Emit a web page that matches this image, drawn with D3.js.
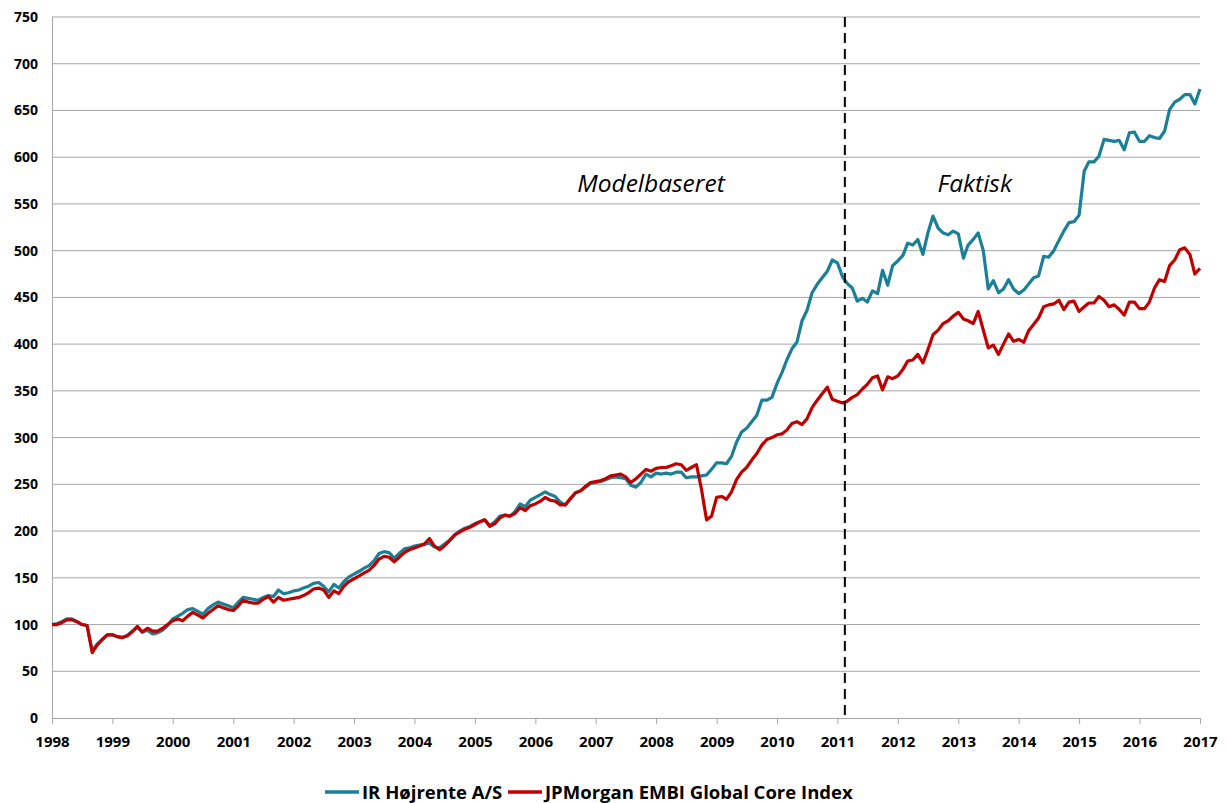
<!DOCTYPE html>
<html>
<head>
<meta charset="utf-8">
<script src="https://cdn.jsdelivr.net/npm/d3@7"></script>
<style>
  body { margin: 0; background: #fff; }
  text { font-family: "Open Sans", "DejaVu Sans", sans-serif; }
</style>
</head>
<body>
<div id="chart"></div>
<script>
// monthly index values, Jan 1998 .. Jan 2017 (one row per year)
var irHojrente = [
  100, 101, 103, 106, 106, 103, 100, 99, 72, 79, 84, 89,
  89, 87, 86, 88, 93, 97, 92, 94, 90, 91, 94, 99,
  106, 109, 112, 116, 117, 114, 111, 117, 121, 124, 122, 120,
  118, 124, 129, 128, 127, 126, 129, 131, 130, 137, 133, 134,
  136, 137, 139, 141, 144, 145, 141, 135, 143, 139, 146, 151,
  154, 157, 160, 163, 168, 176, 178, 177, 171, 176, 181, 182,
  184, 185, 186, 187, 183, 182, 186, 190, 196, 200, 203, 205,
  208, 210, 212, 206, 210, 216, 217, 216, 221, 229, 226, 233,
  236, 239, 242, 239, 237, 231, 228, 234, 241, 243, 247, 251,
  252, 253, 255, 257, 258, 257, 256, 249, 247, 252, 261, 258,
  262, 261, 262, 261, 263, 263, 257, 258, 258, 259, 260, 266,
  273, 273, 272, 280, 295, 306, 310, 317, 324, 340, 340, 343,
  358, 370, 383, 395, 402, 425, 436, 455, 464, 471, 478, 490,
  487, 472, 465, 460, 446, 449, 445, 457, 454, 479, 463, 484,
  489, 495, 508, 506, 512, 496, 519, 537, 524, 519, 517, 521,
  518, 492, 506, 512, 519, 500, 459, 468, 455, 459, 469, 459,
  454, 458, 464, 471, 473, 494, 493, 500, 511, 521, 530, 531,
  538, 585, 595, 595, 601, 619, 618, 617, 618, 608, 626, 627,
  617, 617, 623, 621, 620, 628, 651, 659, 662, 667, 667, 657,
  673
];

var embiCore = [
  100, 100, 102, 105, 105, 103, 100, 99, 70, 78, 84, 89,
  89, 87, 86, 88, 92, 98, 92, 96, 93, 93, 96, 100,
  104, 106, 104, 109, 113, 110, 107, 112, 116, 120, 118, 116,
  115, 120, 126, 124, 123, 123, 127, 130, 124, 129, 126, 127,
  128, 129, 131, 134, 138, 139, 137, 129, 136, 133, 141, 146,
  149, 152, 155, 158, 163, 170, 173, 172, 167, 172, 177, 180,
  182, 184, 186, 192, 184, 180, 184, 190, 196, 199, 202, 204,
  207, 210, 212, 205, 208, 214, 217, 216, 219, 225, 222, 227,
  229, 232, 236, 233, 232, 228, 228, 235, 241, 243, 248, 252,
  253, 254, 256, 259, 260, 261, 258, 252, 256, 261, 266, 264,
  267, 268, 268, 270, 272, 271, 265, 268, 271, 245, 212, 216,
  236, 237, 234, 242, 255, 263, 268, 276, 283, 292, 298, 300,
  303, 304, 308, 315, 317, 314, 320, 332, 340, 347, 354, 341,
  339, 337, 339, 343, 346, 352, 357, 364, 366, 351, 365, 363,
  366, 373, 382, 383, 389, 380, 394, 410, 415, 422, 425, 430,
  434, 427, 425, 422, 435, 415, 396, 399, 389, 400, 411, 403,
  405, 402, 414, 421, 428, 440, 442, 443, 447, 437, 445, 446,
  435, 440, 444, 444, 451, 447, 440, 442, 437, 431, 445, 445,
  438, 438, 445, 460, 469, 467, 484, 490, 501, 503, 496, 475,
  481
];

var seriesNames = ["IR Højrente A/S", "JPMorgan EMBI Global Core Index"];
var seriesColors = ["#1b7f95", "#c00000"];
var yTicks = d3.range(0, 751, 50);
var xYears = d3.range(1998, 2018);
var splitDate = new Date(2011, 1, 15);
var phaseLabels = ["Modelbaseret", "Faktisk"];

var W = 1227, H = 803;
var margin = { top: 17, right: 27, bottom: 85, left: 52 };

var svg = d3.select('#chart').append('svg')
  .attr('width', W).attr('height', H);

var x = d3.scaleTime()
  .domain([new Date(1998, 0, 1), new Date(2017, 0, 1)])
  .range([margin.left, W - margin.right]);
var y = d3.scaleLinear()
  .domain([0, 750])
  .range([H - margin.bottom, margin.top]);

// gridlines
svg.append('g')
  .selectAll('line')
  .data(yTicks.filter(d => d > 0))
  .enter().append('line')
  .attr('x1', x.range()[0]).attr('x2', x.range()[1])
  .attr('y1', d => y(d)).attr('y2', d => y(d))
  .attr('stroke', '#a6a6a6').attr('stroke-width', 1);

// y axis
var yAxis = svg.append('g')
  .attr('transform', 'translate(' + margin.left + ',0)')
  .call(d3.axisLeft(y).tickValues(yTicks).tickSize(0).tickPadding(14));
yAxis.select('.domain').attr('stroke', '#a6a6a6');
yAxis.selectAll('text')
  .attr('font-size', 14).attr('font-weight', 700).attr('fill', '#000')
  .attr('font-family', '"Open Sans", sans-serif');

// x axis
var xAxis = svg.append('g')
  .attr('transform', 'translate(0,' + y(0) + ')')
  .call(d3.axisBottom(x)
    .tickValues(xYears.map(yr => new Date(yr, 0, 1)))
    .tickFormat(d3.timeFormat('%Y'))
    .tickSizeInner(6).tickSizeOuter(0).tickPadding(12));
xAxis.selectAll('.domain, line').attr('stroke', '#a6a6a6');
xAxis.selectAll('text')
  .attr('font-size', 15).attr('font-weight', 700).attr('fill', '#000')
  .attr('font-family', '"Open Sans", sans-serif');

// lines
var dates = irHojrente.map((v, i) => new Date(1998, i, 1));
var line = d3.line()
  .x((d, i) => x(dates[i]))
  .y(d => y(d));

[irHojrente, embiCore].forEach(function (s, k) {
  svg.append('path')
    .datum(s)
    .attr('fill', 'none')
    .attr('stroke', seriesColors[k])
    .attr('stroke-width', 3.2)
    .attr('stroke-linejoin', 'round')
    .attr('d', line);
});

// split marker
svg.append('line')
  .attr('x1', x(splitDate)).attr('x2', x(splitDate))
  .attr('y1', y(750)).attr('y2', y(0))
  .attr('stroke', '#000').attr('stroke-width', 2)
  .attr('stroke-dasharray', '10,6');

svg.append('text')
  .attr('x', x(new Date(2007, 11, 1))).attr('y', 192)
  .attr('text-anchor', 'middle')
  .attr('font-size', 24.5).attr('font-style', 'italic')
  .text(phaseLabels[0]);
svg.append('text')
  .attr('x', x(new Date(2013, 3, 10))).attr('y', 192)
  .attr('text-anchor', 'middle')
  .attr('font-size', 24.5).attr('font-style', 'italic')
  .text(phaseLabels[1]);

// legend
var legend = svg.append('g').attr('transform', 'translate(0,792)');
var legendX = [325, 508];
seriesNames.forEach(function (name, k) {
  legend.append('line')
    .attr('x1', legendX[k]).attr('x2', legendX[k] + 34)
    .attr('y1', 0).attr('y2', 0)
    .attr('stroke', seriesColors[k]).attr('stroke-width', 3.5);
  legend.append('text')
    .attr('x', legendX[k] + 37).attr('y', 6.5)
    .attr('font-size', 18.5).attr('font-weight', 700)
    .text(name);
});
</script>
</body>
</html>
